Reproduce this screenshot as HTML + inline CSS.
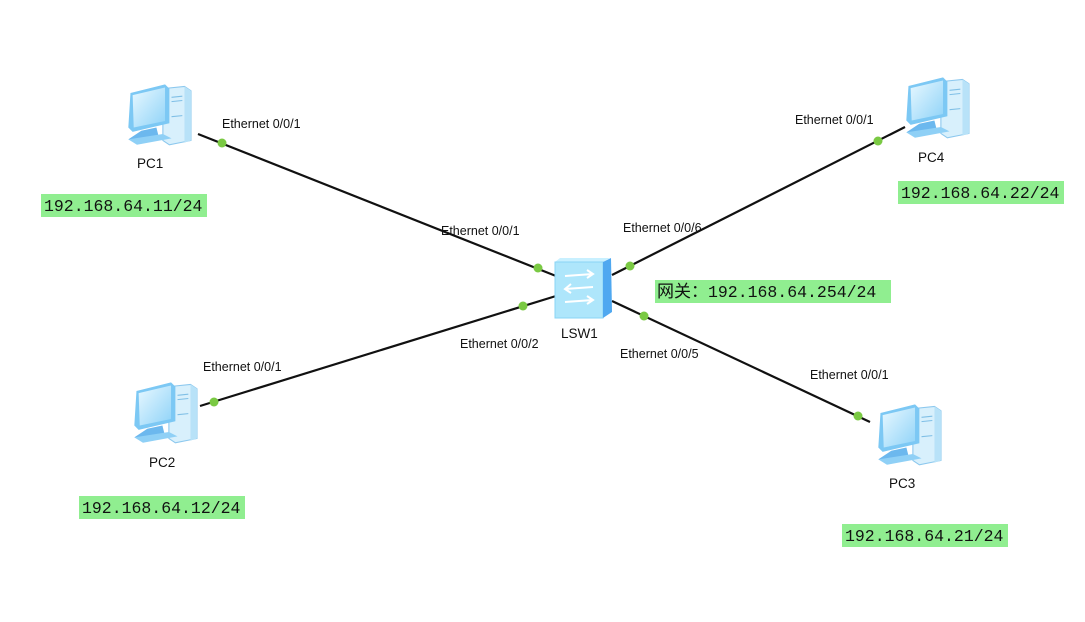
<!DOCTYPE html>
<html><head><meta charset="utf-8"><style>
html,body{margin:0;padding:0;background:#fff;}
svg text{font-family:"Liberation Sans",Arial,sans-serif;font-size:12.5px;fill:#111;}
.ip{font-family:"Liberation Mono","Noto Sans CJK SC",monospace;font-size:16.5px;fill:#111;}
.lbl{font-size:13.5px;}
</style></head><body>
<svg width="1085" height="617" viewBox="0 0 1085 617" xmlns="http://www.w3.org/2000/svg">
<defs>
<linearGradient id="scr" x1="0" y1="0" x2="1" y2="1"><stop offset="0" stop-color="#e8f8ff"/><stop offset="1" stop-color="#8fd3f8"/></linearGradient>
<g id="pc">
  <path d="M36 8 L56 6 L62 10 L62 56 L42 60 L36 56 Z" fill="#d8f0fc" stroke="#8cc8ee" stroke-width="1"/>
  <path d="M56 6 L62 10 L62 56 L56 58 Z" fill="#b8e2f8"/>
  <line x1="44" y1="16" x2="54" y2="15" stroke="#7fbfe6"/>
  <line x1="44" y1="20" x2="54" y2="19" stroke="#7fbfe6"/>
  <line x1="44" y1="34" x2="54" y2="33" stroke="#7fbfe6"/>
  <path d="M6 12 L38 4 L42 8 L42 40 L8 48 L4 44 Z" fill="#7cc8f4"/>
  <path d="M8 14 L38 7 L38 38 L9 44 Z" fill="url(#scr)"/>
  <path d="M16 47 L30 44 L32 52 L12 57 L4 55 Z" fill="#6cb8ee"/>
  <path d="M4 55 L36 50 L44 54 L12 60 Z" fill="#8fd0f6"/>
</g>
</defs>
<g stroke="#111" stroke-width="2.2">
<line x1="198" y1="134" x2="556" y2="276"/>
<line x1="200" y1="406" x2="556" y2="296"/>
<line x1="612" y1="275" x2="905" y2="127"/>
<line x1="612" y1="301" x2="870" y2="422"/>
</g>
<g fill="#7ac943">
<circle cx="222" cy="143" r="4.5"/><circle cx="538" cy="268" r="4.5"/>
<circle cx="214" cy="402" r="4.5"/><circle cx="523" cy="306" r="4.5"/>
<circle cx="630" cy="266" r="4.5"/><circle cx="878" cy="141" r="4.5"/>
<circle cx="644" cy="316" r="4.5"/><circle cx="858" cy="416" r="4.5"/>
</g>
<use href="#pc" transform="translate(124,80) scale(1.08)"/>
<use href="#pc" transform="translate(130,378) scale(1.08)"/>
<use href="#pc" transform="translate(902,73) scale(1.08)"/>
<use href="#pc" transform="translate(874,400) scale(1.08)"/>
<text class="lbl" x="137" y="168">PC1</text>
<text class="lbl" x="149" y="467">PC2</text>
<text class="lbl" x="918" y="162">PC4</text>
<text class="lbl" x="889" y="488">PC3</text>
<path d="M555 262 L560 258 L610 258 L603 262 Z" fill="#c8f0ff"/>
<rect x="555" y="262" width="48" height="56" fill="#aee6fb" stroke="#8ad4f4"/>
<path d="M603 262 L611 258 L612 312 L603 318 Z" fill="#4fa8f0"/>
<g stroke="#fff" stroke-width="2" fill="none">
<path d="M565 276 L593 274 M587 270 L593 274 L587 278"/>
<path d="M593 287 L565 289 M571 284 L565 289 L571 293"/>
<path d="M565 302 L593 300 M587 296 L593 300 L587 304"/>
</g>
<text class="lbl" x="561" y="338">LSW1</text>
<text x="222" y="128">Ethernet 0/0/1</text>
<text x="441" y="235">Ethernet 0/0/1</text>
<text x="203" y="371">Ethernet 0/0/1</text>
<text x="460" y="348">Ethernet 0/0/2</text>
<text x="795" y="124">Ethernet 0/0/1</text>
<text x="623" y="232">Ethernet 0/0/6</text>
<text x="620" y="358">Ethernet 0/0/5</text>
<text x="810" y="379">Ethernet 0/0/1</text>
<g fill="#90ee90">
<rect x="41" y="194" width="166" height="23"/>
<rect x="79" y="496" width="166" height="23"/>
<rect x="898" y="181" width="166" height="23"/>
<rect x="842" y="524" width="166" height="23"/>
<rect x="655" y="280" width="236" height="23"/>
</g>
<text class="ip" x="44" y="211">192.168.64.11/24</text>
<text class="ip" x="82" y="513">192.168.64.12/24</text>
<text class="ip" x="901" y="198">192.168.64.22/24</text>
<text class="ip" x="845" y="541">192.168.64.21/24</text>
<text class="ip" x="657" y="297"><tspan style="font-family:'Noto Sans CJK SC',sans-serif;font-size:17px">网关：</tspan>192.168.64.254/24</text>
</svg>
</body></html>
